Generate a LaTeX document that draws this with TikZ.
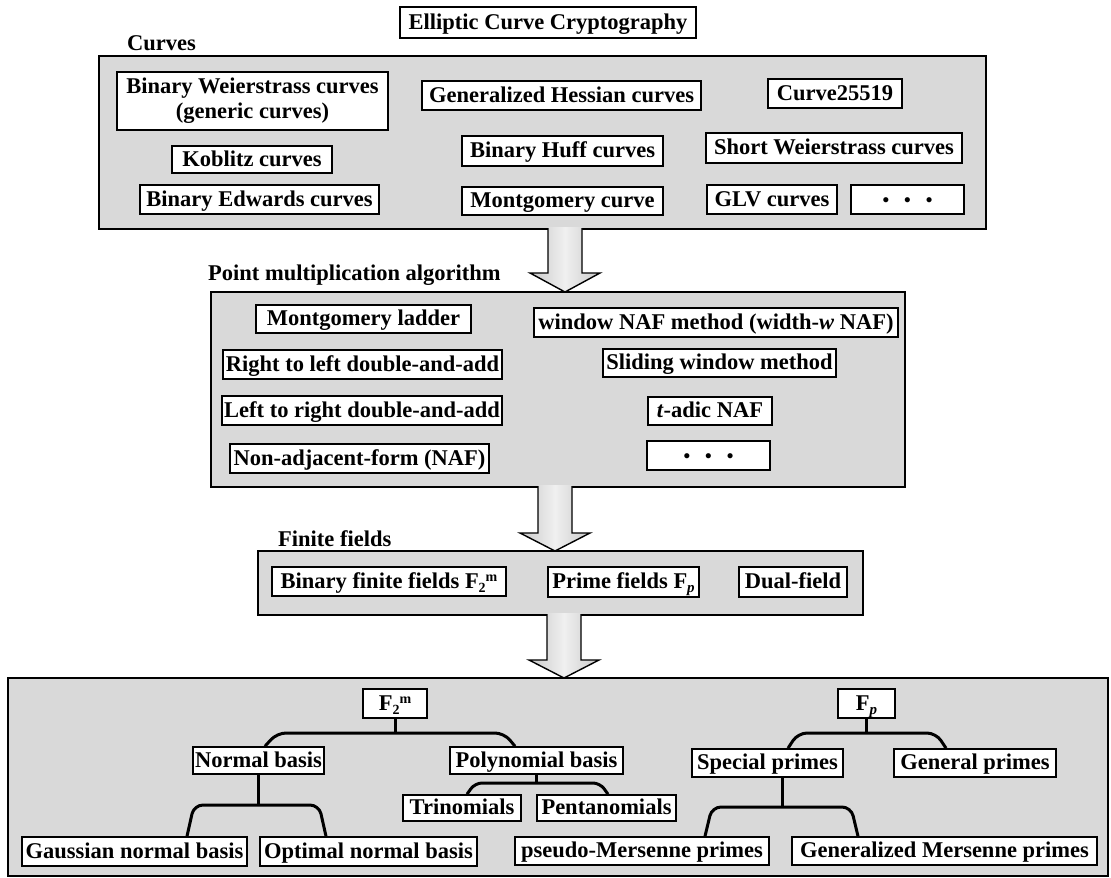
\documentclass[tikz,border=0pt]{standalone}
\usepackage{fontspec}
\setmainfont{Liberation Serif}
\usetikzlibrary{calc}
\definecolor{panelgray}{RGB}{217,217,217}

% index helpers for field names
\newcommand\lowidx[1]{\raisebox{-4pt}{\fontsize{14}{14}\selectfont #1}}
\newcommand\highidx[1]{\raisebox{7pt}{\fontsize{14}{14}\selectfont #1}}
\newcommand\pidx{\raisebox{-4pt}{\fontsize{15}{15}\selectfont\itshape p}}
\newcommand\dotsrow{{\fontsize{19}{19}\selectfont\textbullet\hspace{15pt}\textbullet\hspace{15pt}\textbullet}}

% box given by its corners (x1,y1) (x2,y2)
\newcommand\bx[7][]{\node[box, minimum width={#5-#3}, minimum height={#6-#4}, #1] (#2) at ({(#3+#5)/2},{(#4+#6)/2}) {#7};}
% panel given by its corners
\newcommand\pnl[5]{\node[panel, minimum width={#4-#2}, minimum height={#5-#3}] (#1) at ({(#2+#4)/2},{(#3+#5)/2}) {};}
% block arrow: centre x, upper panel, lower panel, y where the head starts
\newcommand\bigarrow[4]{%
  \path[arrowfill] ($(#1-17,0 |- #2.south)+(0,-2)$) -- (#1-17,#4) -- (#1-35,#4) -- (#1,0 |- #3.north)
     -- (#1+35,#4) -- (#1+17,#4) -- ($(#1+17,0 |- #2.south)+(0,-2)$) -- cycle;
  \draw[arrowline] ($(#1-17,0 |- #2.south)+(0,-1)$) -- (#1-17,#4) -- (#1-35,#4) -- (#1,0 |- #3.north)
     -- (#1+35,#4) -- (#1+17,#4) -- ($(#1+17,0 |- #2.south)+(0,-1)$);}

\tikzset{
  every node/.style={font=\bfseries\fontsize{22.5}{25}\selectfont},
  box/.style={draw, line width=1.6pt, fill=white, inner sep=0pt, text height=16pt, text depth=3pt},
  panel/.style={draw, line width=1.4pt, fill=panelgray, inner sep=0pt, outer sep=0pt},
  caption/.style={anchor=base west, inner sep=0pt},
  branch/.style={line width=3pt, rounded corners=9pt},
  arrowfill/.style={left color=gray!42, right color=gray!42, middle color=gray!12},
  arrowline/.style={line width=1.4pt, line join=miter},
}

\begin{document}
\begin{tikzpicture}[x=1pt,y=-1pt]
\useasboundingbox (0,0) rectangle (1111,878);

% panels
\pnl{curves}{99}{56}{986}{229}
\pnl{point}{211}{292}{905}{487}
\pnl{fields}{258}{551}{863}{615}
\pnl{bases}{8}{678}{1108}{876}

% arrows between the panels
\bigarrow{565}{curves}{point}{273}
\bigarrow{555}{point}{fields}{533}
\bigarrow{564}{fields}{bases}{660}

% title and captions
\bx{title}{400}{7}{696}{38}{Elliptic Curve Cryptography}
\node[caption] (lcurves) at (127,50) {Curves};
\node[caption] (lpoint) at (208,280) {Point multiplication algorithm};
\node[caption] (lfields) at (278,546) {Finite fields};

% curves
\bx[align=center, text height=, text depth=]{bw}{117}{72}{388}{130}{Binary Weierstrass curves\\(generic curves)}
\bx{gh}{422}{81}{701}{110}{Generalized Hessian curves}
\bx{c255}{768}{79}{902}{108}{Curve25519}
\bx{kob}{172}{146}{332}{173}{Koblitz curves}
\bx{huff}{462}{136}{663}{166}{Binary Huff curves}
\bx{sw}{706}{133}{962}{163}{Short Weierstrass curves}
\bx{edw}{140}{185}{379}{214}{Binary Edwards curves}
\bx{mont}{462}{187}{663}{215}{Montgomery curve}
\bx{glv}{707}{185}{837}{214}{GLV curves}
\bx{cdots}{851}{185}{964}{214}{\dotsrow}

% point multiplication
\bx{ml}{256}{305}{471}{333}{Montgomery ladder}
\bx{wnaf}{534}{308}{898}{337}{window NAF method (width-\textit{w} NAF)}
\bx{rl}{223}{350}{502}{379}{Right to left double-and-add}
\bx{sld}{603}{349}{836}{377}{Sliding window method}
\bx{lr}{222}{396}{502}{425}{Left to right double-and-add}
\bx{tadic}{648}{397}{772}{425}{\textit{t}-adic NAF}
\bx{naf}{230}{444}{489}{473}{Non-adjacent-form (NAF)}
\bx{pdots}{647}{441}{770}{470}{\dotsrow}

% finite fields
\bx{bff}{272}{567}{506}{596}{Binary finite fields F\lowidx{2}\highidx{m}}
\bx{pf}{548}{567}{699}{597}{Prime fields F\pidx}
\bx{df}{739}{567}{847}{597}{Dual-field}

% binary field bases
\bx{f2m}{363}{689}{427}{718}{F\lowidx{2}\highidx{m}}
\bx{nb}{193}{747}{324}{774}{Normal basis}
\bx{pb}{450}{747}{623}{774}{Polynomial basis}
\bx{tri}{403}{795}{521}{821}{Trinomials}
\bx{pent}{537}{795}{676}{821}{Pentanomials}
\bx{gnb}{22}{837}{247}{866}{Gaussian normal basis}
\bx{onb}{260}{837}{477}{866}{Optimal normal basis}

% prime field moduli
\bx{fp}{838}{689}{895}{718}{F\pidx}
\bx{sp}{692}{749}{843}{777}{Special primes}
\bx{gp}{894}{749}{1056}{777}{General primes}
\bx{pm}{515}{837}{769}{865}{pseudo-Mersenne primes}
\bx{gm}{792}{837}{1097}{865}{Generalized Mersenne primes}

% tree of F_2^m
\draw[branch] (f2m.south) -- (f2m.south |- 0,733);
\draw[branch] (nb.north -| 265,0) -- (277,733) -- (504,733) -- (pb.north -| 515,0);
\draw[branch] (nb.south) -- (nb.south |- 0,805);
\draw[branch] (gnb.north -| 187,0) -- (194,805) -- (319,805) -- (onb.north -| 326,0);
\draw[branch] (pb.south) -- (pb.south |- 0,783);
\draw[branch, rounded corners=7pt] (tri.north -| 467,0) -- (475,783) -- (600,783) -- (pent.north -| 608,0);

% tree of F_p
\draw[branch] (fp.south) -- (fp.south |- 0,733);
\draw[branch] (sp.north -| 788,0) -- (798,733) -- (936,733) -- (gp.north -| 946,0);
\draw[branch] (sp.south -| 782,0) -- (782,807);
\draw[branch] (pm.north -| 705,0) -- (712,807) -- (851,807) -- (gm.north -| 858,0);
\end{tikzpicture}
\end{document}
